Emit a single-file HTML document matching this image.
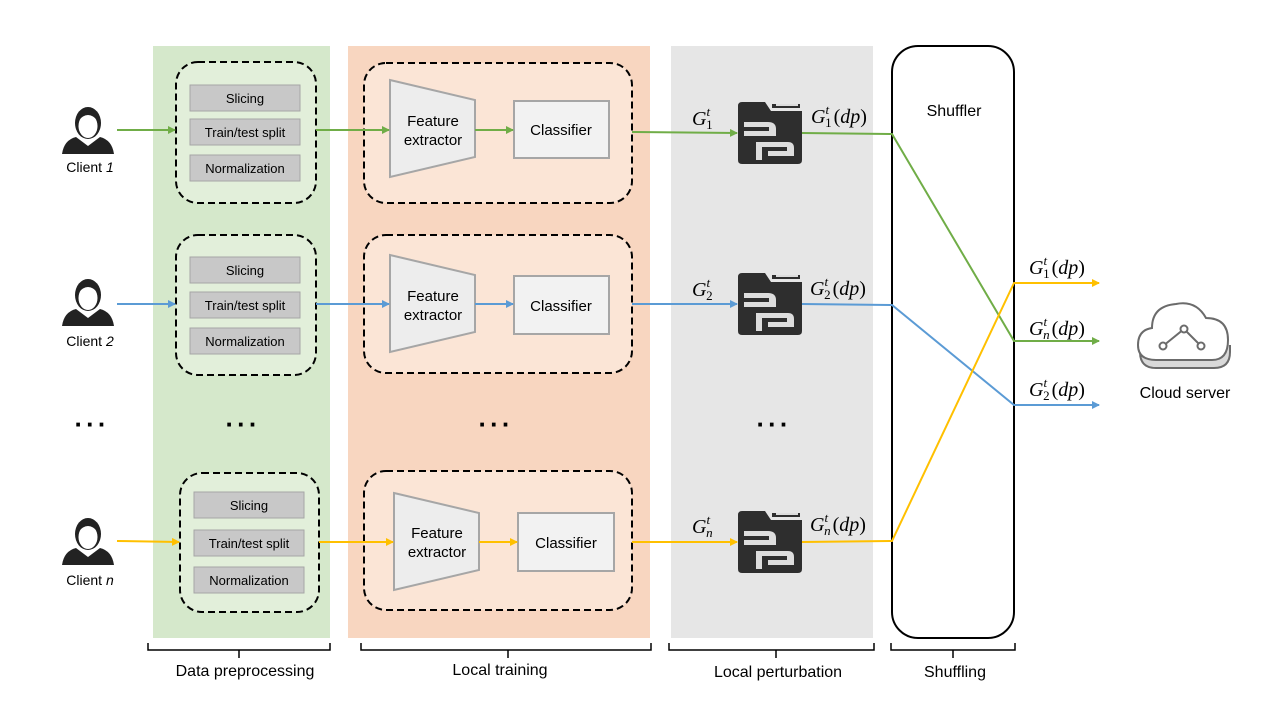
<!DOCTYPE html>
<html><head><meta charset="utf-8"><style>
html,body{margin:0;padding:0;background:#fff}
svg{display:block}
text{font-family:"Liberation Sans",sans-serif;fill:#000}
.m{font-family:"Liberation Serif",serif;font-style:italic;font-size:20px}
</style></head><body>
<svg width="1280" height="720" viewBox="0 0 1280 720" xmlns="http://www.w3.org/2000/svg">
<defs>
<marker id="ag" markerWidth="8" markerHeight="8" refX="7" refY="4" orient="auto" markerUnits="userSpaceOnUse"><path d="M0,0 L8,4 L0,8 z" fill="#70ad47"/></marker>
<marker id="ab" markerWidth="8" markerHeight="8" refX="7" refY="4" orient="auto" markerUnits="userSpaceOnUse"><path d="M0,0 L8,4 L0,8 z" fill="#5b9bd5"/></marker>
<marker id="ay" markerWidth="8" markerHeight="8" refX="7" refY="4" orient="auto" markerUnits="userSpaceOnUse"><path d="M0,0 L8,4 L0,8 z" fill="#ffc000"/></marker>
<g id="dp">
<path d="M4,0 H27 L33,9 H64 V58 Q64,62 60,62 H4 Q0,62 0,58 V4 Q0,0 4,0 z" fill="#2e2e2e"/>
<rect x="34" y="2" width="28" height="4" fill="#2e2e2e"/>
<path d="M38,3 H60" stroke="#ddd" stroke-width="2"/>
<path d="M6,20 H30 Q38,20 38,27 V34 H6 V29 H31 V25 H6 z" fill="#ddd"/>
<path d="M18,58 V40 H50 Q56,40 56,46 V54 H30 V49 H49 V45 H24 V58 z" fill="#ddd"/>
</g>
<g id="person">
<path d="M-26,26 Q-24,12 -12,9 L0,18 L12,9 Q24,12 26,26 z" fill="#222"/>
<ellipse cx="0" cy="-5" rx="13" ry="16" fill="#222"/>
<ellipse cx="0" cy="-2" rx="9.5" ry="12" fill="#fff"/>
<path d="M-10,-7 Q0,-19 10,-7 Q10,-15 0,-17 Q-10,-15 -10,-7z" fill="#222"/>
</g>
</defs>

<rect x="153" y="46" width="177" height="592" fill="#d5e8cb"/>
<rect x="348" y="46" width="302" height="592" fill="#f8d6c0"/>
<rect x="671" y="46" width="202" height="592" fill="#e6e6e6"/>
<rect x="892" y="46" width="122" height="592" rx="26" fill="#fff" stroke="#000" stroke-width="2"/>
<text x="954" y="116" font-size="16" text-anchor="middle">Shuffler</text>

<g stroke="#000" stroke-width="2" stroke-dasharray="7,4">
<rect x="176" y="62" width="140" height="141" rx="22" fill="#e2efda"/>
<rect x="176" y="235" width="140" height="140" rx="22" fill="#e2efda"/>
<rect x="180" y="473" width="139" height="139" rx="22" fill="#e2efda"/>
<rect x="364" y="63" width="268" height="140" rx="22" fill="#fbe5d6"/>
<rect x="364" y="235" width="268" height="138" rx="22" fill="#fbe5d6"/>
<rect x="364" y="471" width="268" height="139" rx="22" fill="#fbe5d6"/>
</g>
<g fill="#c8c8c8" stroke="#a6a6a6" stroke-width="1">
<rect x="190" y="85" width="110" height="26"/><rect x="190" y="119" width="110" height="26"/><rect x="190" y="155" width="110" height="26"/>
<rect x="190" y="257" width="110" height="26"/><rect x="190" y="292" width="110" height="26"/><rect x="190" y="328" width="110" height="26"/>
<rect x="194" y="492" width="110" height="26"/><rect x="194" y="530" width="110" height="26"/><rect x="194" y="567" width="110" height="26"/>
</g>
<g font-size="13" text-anchor="middle">
<text x="245" y="103">Slicing</text><text x="245" y="137">Train/test split</text><text x="245" y="173">Normalization</text>
<text x="245" y="275">Slicing</text><text x="245" y="310">Train/test split</text><text x="245" y="346">Normalization</text>
<text x="249" y="510">Slicing</text><text x="249" y="548">Train/test split</text><text x="249" y="585">Normalization</text>
</g>

<g fill="#ededed" stroke="#a6a6a6" stroke-width="2">
<path d="M390,80 L475,100 L475,157 L390,177 z"/>
<path d="M390,255 L475,275 L475,332 L390,352 z"/>
<path d="M394,493 L479,513 L479,570 L394,590 z"/>
<rect x="514" y="101" width="95" height="57" fill="#f2f2f2"/>
<rect x="514" y="276" width="95" height="58" fill="#f2f2f2"/>
<rect x="518" y="513" width="96" height="58" fill="#f2f2f2"/>
</g>
<g font-size="15" text-anchor="middle">
<text x="433" y="126">Feature</text><text x="433" y="145">extractor</text>
<text x="433" y="301">Feature</text><text x="433" y="320">extractor</text>
<text x="437" y="538">Feature</text><text x="437" y="557">extractor</text>
<text x="561" y="135">Classifier</text><text x="561" y="311">Classifier</text><text x="566" y="548">Classifier</text>
</g>

<use href="#person" x="88" y="128"/>
<use href="#person" x="88" y="300"/>
<use href="#person" x="88" y="539"/>
<g font-size="14" text-anchor="middle">
<text x="90" y="172">Client <tspan font-style="italic">1</tspan></text>
<text x="90" y="346">Client <tspan font-style="italic">2</tspan></text>
<text x="90" y="585">Client <tspan font-style="italic">n</tspan></text>
</g>

<g font-size="26" text-anchor="middle" font-weight="bold" letter-spacing="3">
<text x="92" y="433">···</text><text x="243" y="433">···</text><text x="496" y="433">···</text><text x="774" y="433">···</text>
</g>

<use href="#dp" x="738" y="102"/>
<use href="#dp" x="738" y="273"/>
<use href="#dp" x="738" y="511"/>

<g stroke="#70ad47" stroke-width="2" fill="none">
<line x1="117" y1="130" x2="175" y2="130" marker-end="url(#ag)"/>
<line x1="316" y1="130" x2="389" y2="130" marker-end="url(#ag)"/>
<line x1="475" y1="130" x2="513" y2="130" marker-end="url(#ag)"/>
<line x1="632" y1="132" x2="737" y2="133" marker-end="url(#ag)"/>
<polyline points="802,133 892,134 1014,341 1099,341" marker-end="url(#ag)"/>
</g>
<g stroke="#5b9bd5" stroke-width="2" fill="none">
<line x1="117" y1="304" x2="175" y2="304" marker-end="url(#ab)"/>
<line x1="316" y1="304" x2="389" y2="304" marker-end="url(#ab)"/>
<line x1="475" y1="304" x2="513" y2="304" marker-end="url(#ab)"/>
<line x1="632" y1="304" x2="737" y2="304" marker-end="url(#ab)"/>
<polyline points="802,304 892,305 1014,405 1099,405" marker-end="url(#ab)"/>
</g>
<g stroke="#ffc000" stroke-width="2" fill="none">
<line x1="117" y1="541" x2="179" y2="542" marker-end="url(#ay)"/>
<line x1="319" y1="542" x2="393" y2="542" marker-end="url(#ay)"/>
<line x1="479" y1="542" x2="517" y2="542" marker-end="url(#ay)"/>
<line x1="632" y1="542" x2="737" y2="542" marker-end="url(#ay)"/>
<polyline points="802,542 892,541 1014,283 1099,283" marker-end="url(#ay)"/>
</g>

<g>
<text x="692" y="125" class="m">G<tspan font-size="13" dy="-9">t</tspan><tspan font-size="13" dx="-4" dy="13" font-style="normal">1</tspan></text>
<text x="692" y="296" class="m">G<tspan font-size="13" dy="-9">t</tspan><tspan font-size="13" dx="-4" dy="13" font-style="normal">2</tspan></text>
<text x="692" y="533" class="m">G<tspan font-size="13" dy="-9">t</tspan><tspan font-size="13" dx="-4" dy="13">n</tspan></text>
<text x="811" y="123" class="m">G<tspan font-size="13" dy="-9">t</tspan><tspan font-size="13" dx="-4" dy="13" font-style="normal">1</tspan><tspan dx="2" dy="-4" font-style="normal">(</tspan>dp<tspan font-style="normal">)</tspan></text>
<text x="810" y="295" class="m">G<tspan font-size="13" dy="-9">t</tspan><tspan font-size="13" dx="-4" dy="13" font-style="normal">2</tspan><tspan dx="2" dy="-4" font-style="normal">(</tspan>dp<tspan font-style="normal">)</tspan></text>
<text x="810" y="531" class="m">G<tspan font-size="13" dy="-9">t</tspan><tspan font-size="13" dx="-4" dy="13">n</tspan><tspan dx="2" dy="-4" font-style="normal">(</tspan>dp<tspan font-style="normal">)</tspan></text>
<text x="1029" y="274" class="m">G<tspan font-size="13" dy="-9">t</tspan><tspan font-size="13" dx="-4" dy="13" font-style="normal">1</tspan><tspan dx="2" dy="-4" font-style="normal">(</tspan>dp<tspan font-style="normal">)</tspan></text>
<text x="1029" y="335" class="m">G<tspan font-size="13" dy="-9">t</tspan><tspan font-size="13" dx="-4" dy="13">n</tspan><tspan dx="2" dy="-4" font-style="normal">(</tspan>dp<tspan font-style="normal">)</tspan></text>
<text x="1029" y="396" class="m">G<tspan font-size="13" dy="-9">t</tspan><tspan font-size="13" dx="-4" dy="13" font-style="normal">2</tspan><tspan dx="2" dy="-4" font-style="normal">(</tspan>dp<tspan font-style="normal">)</tspan></text>
</g>

<g stroke="#6b6b6b" stroke-width="2" fill="#fff">
<path d="M1140,345 V352 Q1140,368 1156,368 H1214 Q1230,368 1230,352 V345" fill="#d9d9d9"/>
<path d="M1156,360 Q1138,360 1138,345 Q1138,330 1152,328 Q1152,306 1176,304 Q1196,300 1206,318 Q1228,318 1228,340 Q1228,360 1212,360 z"/>
<polyline points="1163,346 1184,329 1201,346" fill="none"/>
<circle cx="1163" cy="346" r="3.5"/><circle cx="1184" cy="329" r="3.5"/><circle cx="1201" cy="346" r="3.5"/>
</g>
<text x="1185" y="398" font-size="16" text-anchor="middle">Cloud server</text>

<g stroke="#000" stroke-width="1.5" fill="none">
<path d="M148,643 V650 H330 V643 M239,650 V658"/>
<path d="M361,643 V650 H651 V643 M508,650 V658"/>
<path d="M669,643 V650 H874 V643 M776,650 V658"/>
<path d="M891,643 V650 H1015 V643 M953,650 V658"/>
</g>
<g font-size="16" text-anchor="middle">
<text x="245" y="676">Data preprocessing</text>
<text x="500" y="675">Local training</text>
<text x="778" y="677">Local perturbation</text>
<text x="955" y="677">Shuffling</text>
</g>
</svg>
</body></html>
